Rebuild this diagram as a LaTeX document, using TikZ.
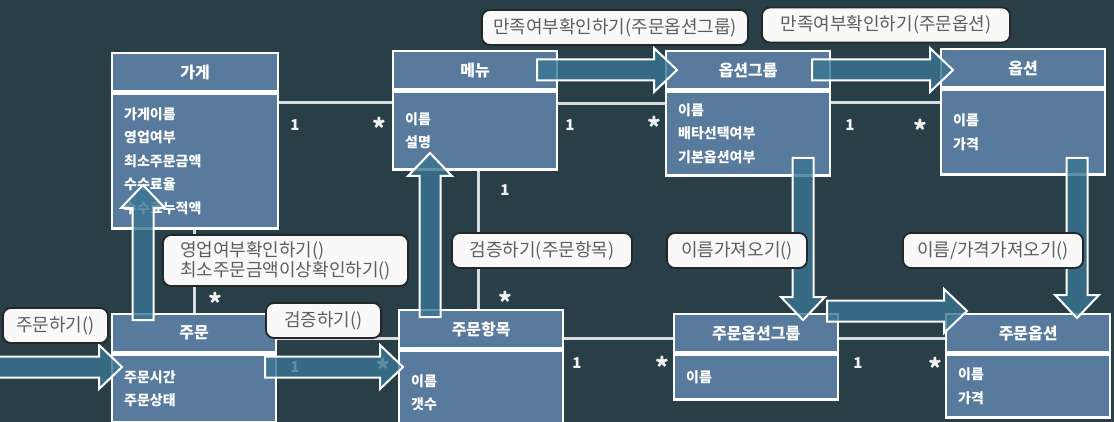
\documentclass[tikz,border=0pt]{standalone}
\usepackage{fontspec}
\setmainfont{Noto Sans CJK KR}
\usetikzlibrary{positioning}

\definecolor{board}{HTML}{283F48}
\definecolor{classblue}{HTML}{587A9C}
\definecolor{msgteal}{HTML}{3A7593}
\definecolor{notegray}{HTML}{5E5E5E}
\definecolor{linegray}{HTML}{D8DCDE}

\tikzset{
  classhead/.style={draw=white, line width=2.4pt, fill=classblue, text=white,
    font=\fontsize{16}{18}\selectfont\bfseries, minimum width=164pt,
    minimum height=38pt, anchor=north west, inner sep=0pt},
  classbody/.style={draw=white, line width=2.4pt, fill=classblue, text=white,
    font=\fontsize{14}{23.5}\selectfont\bfseries, minimum width=164pt,
    text width=140pt, align=left, inner xsep=12pt, inner ysep=0pt},
  msgnote/.style={draw=black!85, line width=1.8pt, fill=white!95!gray,
    rounded corners=8pt, text=notegray, font=\fontsize{18}{20}\selectfont,
    minimum height=35pt, inner sep=0pt},
  assoc/.style={draw=linegray, line width=2.6pt},
  mult/.style={text=white!90!gray, font=\fontsize{15}{15}\selectfont\bfseries, inner sep=0pt},
  star/.style={text=white!90!gray, font=\fontsize{26}{26}\selectfont\bfseries, inner sep=0pt, yshift=-5pt},
  msg/.style={draw=white, line width=2pt, fill=msgteal, fill opacity=0.8},
}

% fat message arrow: tip, rotation, length
\newcommand{\msgarrow}[3]{%
  \draw[msg, shift={(#1)}, rotate=#2] (0,0) -- (-23,-22) -- (-23,-10.5) -- (-#3,-10.5)
    -- (-#3,10.5) -- (-23,10.5) -- (-23,22) -- cycle;}

\begin{document}
\begin{tikzpicture}[x=1pt,y=-1pt]
\clip (0,0) rectangle (1114,422);
\fill[board] (0,0) rectangle (1114,422);

% classes, top row
\node[classhead, minimum width=166pt] (storehead) at (111,52) {가게};
\node[classbody, below=0pt of storehead, minimum width=166pt, text width=142pt, minimum height=135pt] (storebody)
  {가게이름\\영업여부\\최소주문금액\\수수료율\\수수료누적액};
\node[classhead] (menuhead) at (392,50) {메뉴};
\node[classbody, below=0pt of menuhead, minimum height=78pt] (menubody) {이름\\설명};
\node[classhead] (grouphead) at (665,50) {옵션그룹};
\node[classbody, below=0pt of grouphead, minimum height=84pt] (groupbody) {이름\\배타선택여부\\기본옵션여부};
\node[classhead] (optionhead) at (940,48) {옵션};
\node[classbody, below=0pt of optionhead, minimum height=85pt] (optionbody) {이름\\가격};

% classes, bottom row
\node[classhead] (orderhead) at (111,313) {주문};
\node[classbody, below=0pt of orderhead, minimum height=68pt] (orderbody) {주문시간\\주문상태};
\node[classhead] (itemhead) at (398,309) {주문항목};
\node[classbody, below=0pt of itemhead, minimum height=84pt] (itembody) {이름\\갯수};
\node[classhead] (ordgrouphead) at (673,313) {주문옵션그룹};
\node[classbody, below=0pt of ordgrouphead, minimum height=45pt] (ordgroupbody) {이름};
\node[classhead] (ordoptionhead) at (945,313) {주문옵션};
\node[classbody, below=0pt of ordoptionhead, minimum height=63pt] (ordoptionbody) {이름\\가격};

% associations
\coordinate (a1) at ([yshift=-10pt]storebody.north east);
\draw[assoc] (a1) -- (a1 -| menubody.west);
\coordinate (a2) at ([yshift=-13pt]menubody.north east);
\draw[assoc] (a2) -- (a2 -| groupbody.west);
\coordinate (a3) at ([yshift=-12pt]groupbody.north east);
\draw[assoc] (a3) -- (a3 -| optionbody.west);
\coordinate (a4) at ([xshift=-1pt]storebody.south);
\draw[assoc] (a4) -- (a4 |- orderhead.north);
\coordinate (a5) at ([xshift=3pt]menubody.south);
\draw[assoc] (a5) -- (a5 |- itemhead.north);
\coordinate (a6) at ([yshift=-5pt]orderhead.east);
\draw[assoc] (a6) -- (a6 -| itemhead.west);
\coordinate (a7) at ([yshift=-5pt]ordgrouphead.west);
\draw[assoc] (a7) -- (a7 -| itemhead.east);
\coordinate (a8) at ([yshift=-5pt]ordgrouphead.east);
\draw[assoc] (a8) -- (a8 -| ordoptionhead.west);

% multiplicities
\node[mult] (m1) at (295,125) {1};
\node[star] (m2) at (379,123) {*};
\node[mult] (m3) at (570,125) {1};
\node[star] (m4) at (654,122) {*};
\node[mult] (m5) at (850,125) {1};
\node[star] (m6) at (920,125) {*};
\node[star] (m7) at (215,298) {*};
\node[mult] (m8) at (505,190) {1};
\node[star] (m9) at (505,297) {*};
\node[mult] (m10) at (295,367) {1};
\node[star] (m11) at (383,364) {*};
\node[mult] (m12) at (577,363) {1};
\node[star] (m13) at (662,362) {*};
\node[mult] (m14) at (858,363) {1};
\node[star] (m15) at (935,363) {*};

% messages
\coordinate (t1) at (122,367);
\coordinate (t2) at (403,367);
\coordinate (t3) at (143,185);
\coordinate (t4) at (430,153);
\coordinate (t5) at (677,70);
\coordinate (t6) at (953,70);
\coordinate (t7) at (803,320);
\coordinate (t8) at (1077,318);
\coordinate (t9) at (967,311);
\msgarrow{t1}{0}{130}
\msgarrow{t2}{0}{138}
\msgarrow{t3}{90}{135}
\msgarrow{t4}{90}{164}
\msgarrow{t5}{0}{140}
\msgarrow{t6}{0}{141}
\msgarrow{t7}{-90}{162}
\msgarrow{t8}{-90}{160}
\msgarrow{t9}{0}{140}

% notes
\node[msgnote, minimum width=266pt] (n1) at (615,27.5) {만족여부확인하기(주문옵션그룹)};
\node[msgnote, minimum width=248pt] (n2) at (886,25) {만족여부확인하기(주문옵션)};
\node[msgnote, minimum width=245pt, minimum height=51pt, align=left] (n3) at (285.5,260.5)
  {영업여부확인하기()\\최소주문금액이상확인하기()};
\node[msgnote, minimum width=105pt] (n4) at (55.5,325.5) {주문하기()};
\node[msgnote, minimum width=115pt] (n5) at (323.5,320.5) {검증하기()};
\node[msgnote, minimum width=180pt] (n6) at (542,250.5) {검증하기(주문항목)};
\node[msgnote, minimum width=140pt] (n7) at (737,250.5) {이름가져오기()};
\node[msgnote, minimum width=180pt] (n8) at (993,250.5) {이름/가격가져오기()};
\end{tikzpicture}
\end{document}
